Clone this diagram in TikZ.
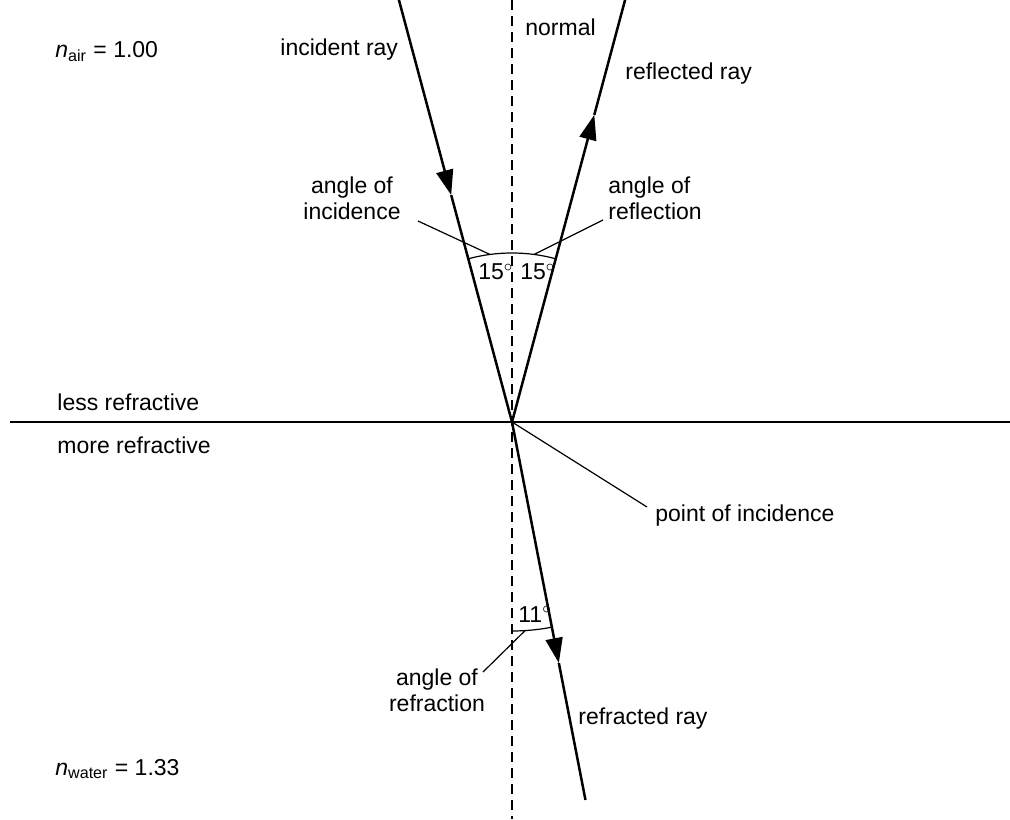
\documentclass[tikz,border=0pt]{standalone}
\usepackage{fontspec}
\setmainfont{Liberation Sans}
\usetikzlibrary{arrows.meta}

\begin{document}
\begin{tikzpicture}[
  x=0.5pt, y=0.5pt,
  font=\fontsize{11.5}{13}\selectfont,
  lbl/.style={inner sep=0pt, anchor=base west},
  clbl/.style={inner sep=0pt, anchor=base, align=center},
  ray/.style={line width=1.25pt},
  rayarr/.style={ray, -{Triangle[length=12.5pt, width=8.5pt]}},
  normalline/.style={line width=0.75pt, dash pattern=on 5pt off 3pt},
  surface/.style={line width=0.75pt},
  leader/.style={line width=0.6pt},
  anglearc/.style={line width=0.6pt},
]
\useasboundingbox (-512,-397) rectangle (498,422);

% ─── surface and normal ────────────────────────────────────────────────────
\coordinate (poi) at (0,0);
\coordinate (ntop) at (0,422);
\coordinate (nbot) at (0,-397);
\coordinate (sleft) at (-502,0);
\coordinate (sright) at (498,0);
\draw[normalline] (ntop) -- (nbot);
\draw[surface] (sleft) -- (sright);

% ─── rays ──────────────────────────────────────────────────────────────────
\coordinate (incstart) at (105:437);
\coordinate (inctip) at (105:235);
\coordinate (refltip) at (75:318);
\coordinate (reflend) at (75:437);
\coordinate (refrtip) at (281:245.5);
\coordinate (refrend) at (281:385);

\draw[rayarr] (incstart) -- (inctip);
\draw[ray] (inctip) -- (poi);
\draw[rayarr] (poi) -- (refltip);
\draw[ray] (refltip) -- (reflend);
\draw[rayarr] (poi) -- (refrtip);
\draw[ray] (refrtip) -- (refrend);

% ─── angles ────────────────────────────────────────────────────────────────
\draw[anglearc] (poi) ++(105:169) arc[start angle=105, end angle=75, radius=169];
\draw[anglearc] (poi) ++(270:209) arc[start angle=270, end angle=281, radius=209];
\node[lbl] (inc15) at (-34,142) {15$^\circ$};
\node[lbl] (refl15) at (8,142) {15$^\circ$};
\node[lbl] (refr11) at (6,-200) {11$^\circ$};

% ─── labels and leaders ────────────────────────────────────────────────────
\node[lbl] (nair) at (-457,364) {\textit{n}\textsubscript{air} = 1.00};
\node[lbl] (nwater) at (-457,-353) {\textit{n}\textsubscript{water} = 1.33};
\node[lbl] (incray) at (-232,366) {incident ray};
\node[lbl] (normallbl) at (13,386) {normal};
\node[lbl] (reflray) at (113,342) {reflected ray};
\node[lbl] (refrray) at (66,-302) {refracted ray};
\node[lbl] (less) at (-455,12) {less refractive};
\node[lbl] (more) at (-455,-31) {more refractive};

% two-line labels: base sits on the last line
\node[clbl] (incangle) at (-160,202) {angle of\\incidence};
\node[lbl, align=left] (reflangle) at (96,202) {angle of\\reflection};
\node[clbl] (refrangle) at (-75,-289) {angle of\\refraction};
\node[lbl] (poilbl) at (143,-99) {point of incidence};

\coordinate (incfoot) at (-94,201);
\coordinate (reflfoot) at (91,202);
\coordinate (refrfoot) at (-29,-250);
\coordinate (poifoot) at (135,-85);
\draw[leader] (incfoot) -- ([shift={(97.5:169)}]poi);
\draw[leader] (reflfoot) -- ([shift={(82.5:169)}]poi);
\draw[leader] (refrfoot) -- ([shift={(273.6:209)}]poi);
\draw[leader] (poi) -- (poifoot);

\end{tikzpicture}
\end{document}
